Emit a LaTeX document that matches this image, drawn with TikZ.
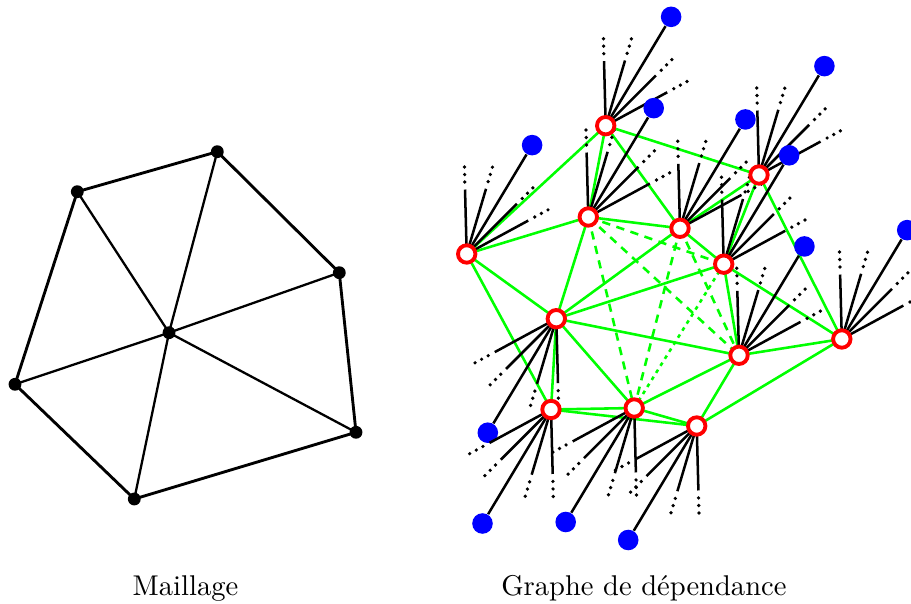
\documentclass[tikz,border=0pt]{standalone}
\usepackage{fontspec}
\usetikzlibrary{calc}
\begin{document}
\begin{tikzpicture}[x=0.35pt,y=-0.35pt,
  mline/.style={line width=1pt,line cap=round},
  mspoke/.style={line width=0.8pt},
  mdot/.style={circle,fill=black,inner sep=0pt,minimum size=4.5pt},
  gedge/.style={draw=green,line width=0.9pt},
  gdash/.style={gedge,dash pattern=on 2.9pt off 2.3pt},
  gdot/.style={gedge,dash pattern=on 1.3pt off 1.6pt},
  ray/.style={line width=0.88pt},
  rnode/.style={circle,draw=red,line width=1.35pt,fill=white,inner sep=0pt,minimum size=6.1pt},
  bnode/.style={circle,fill=blue,inner sep=0pt,minimum size=7.2pt},
  sdot/.style={circle,fill=black,inner sep=0pt,minimum size=1.3pt},
]
\useasboundingbox (0,0) rectangle (911,604);

% ---- Maillage ----
\node[mdot] (m1) at (77.3,191.7) {};
\node[mdot] (m2) at (217.3,151.7) {};
\node[mdot] (m3) at (339.3,272.7) {};
\node[mdot] (m4) at (356,432.3) {};
\node[mdot] (m5) at (134.3,499) {};
\node[mdot] (m6) at (15,384.3) {};
\node[mdot] (mc) at (169,332.7) {};
\draw[mline] (m1.center) -- (m2.center) -- (m3.center) -- (m4.center) -- (m5.center) -- (m6.center) -- (m1.center);
\foreach \m in {m1,m2,m3,m4,m5,m6} \draw[mspoke] (mc.center) -- (\m.center);

% ---- Graphe de dependance ----
\coordinate (A) at (605.7,125.7);
\coordinate (B) at (759,175);
\coordinate (C) at (466.7,254);
\coordinate (D) at (588.3,217);
\coordinate (E) at (680,228.3);
\coordinate (F) at (723.7,264.2);
\coordinate (G) at (556.3,318.7);
\coordinate (H) at (739,355.3);
\coordinate (I) at (841.8,339);
\coordinate (J) at (551,409.5);
\coordinate (K) at (634.2,408);
\coordinate (L) at (696.7,426);

\foreach \u/\v in {A/C,A/D,A/E,A/B,C/D,C/G,C/J,D/E,D/G,E/B,E/F,B/F,B/I,G/E,G/F,G/H,G/K,G/J,F/H,F/I,H/I,H/K,H/L,L/I,K/L,J/K,J/L}
  \draw[gedge] (\u) -- (\v);
\foreach \u/\v in {D/F,D/H,D/K,E/K,E/H}
  \draw[gdash] (\u) -- (\v);
\draw[gdot] (F) -- (K);

\foreach \n/\o/\bd in {A/0/127,B/0/127,C/0/127,D/0/127,E/0/127,F/0/127,H/0/127,I/0/127,G/180/133,J/180/133,K/180/133,L/180/133}{
  \foreach \a/\l [count=\i] in {91.5/64.5,73.5/68,45/71,28.5/70}{
    \pgfmathsetmacro\ang{-\a-\o}
    \draw[ray] (\n) -- ($(\n)+(\ang:\l)$) coordinate (\n e\i);
    \foreach \k in {1,2,3}{
      \pgfmathsetmacro\rr{\l+7.5*\k}
      \node[sdot] (\n d\i\k) at ($(\n)+(\ang:\rr)$) {};
    }
  }
  \pgfmathsetmacro\bang{-59-\o}
  \node[bnode] (b\n) at ($(\n)+(\bang:\bd)$) {};
  \draw[ray] (\n) -- (b\n);
}

\foreach \n in {A,B,C,D,E,F,G,H,I,J,K,L}
  \node[rnode] (r\n) at (\n) {};

% ---- titres ----
\node[anchor=base,inner sep=0pt] (t1) at (185.5,595) {Maillage};
\node[anchor=base,inner sep=0pt] (t2) at (643.9,595) {Graphe de dépendance};
\end{tikzpicture}
\end{document}
